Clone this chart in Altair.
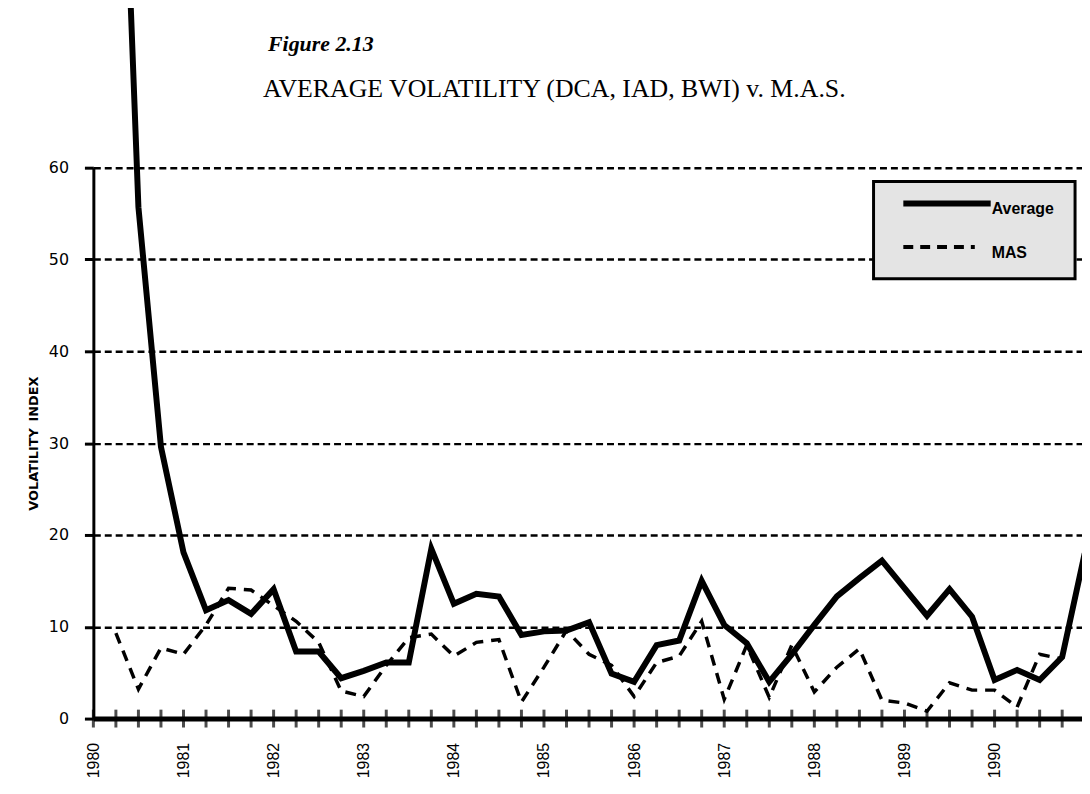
import altair as alt
import pandas as pd

# ---- data (quarterly, starting 1980 Q2) ----
years = [1980, 1981, 1982, 1983, 1984, 1985, 1986, 1987, 1988, 1989, 1990]
quarter_offsets = [0.0, 0.25, 0.5, 0.75]
quarter_times = [y + q for y in years for q in quarter_offsets] + [1991.0]

average_values = [120.0, 55.7, 29.6, 18.1, 11.8, 12.9, 11.4, 14.1, 7.3, 7.3,
                  4.4, 5.2, 6.1, 6.1, 18.5, 12.5, 13.6, 13.3, 9.1, 9.5,
                  9.6, 10.5, 4.9, 4.0, 8.0, 8.5, 15.0, 10.2, 8.2, 4.0,
                  7.0, 10.2, 13.3, 15.3, 17.2, 14.2, 11.2, 14.1, 11.1, 4.2,
                  5.3, 4.2, 6.7, 18.0]
mas_values = [9.3, 3.2, 7.7, 7.0, 10.2, 14.2, 14.0, 12.3, 10.6, 8.3,
              3.0, 2.4, 5.8, 8.8, 9.2, 6.8, 8.3, 8.6, 1.8, 5.6,
              9.6, 7.0, 5.8, 2.4, 6.1, 6.8, 10.6, 2.1, 8.0, 2.3,
              8.0, 2.9, 5.6, 7.6, 2.0, 1.7, 0.8, 3.9, 3.1, 3.1,
              1.25, 7.0, 6.5]
y_ticks = [0, 10, 20, 30, 40, 50, 60]
series_names = ["Average", "MAS"]

avg_df = pd.DataFrame({"t": quarter_times[1:1 + len(average_values)], "v": average_values})
mas_df = pd.DataFrame({"t": quarter_times[1:1 + len(mas_values)], "v": mas_values})
tick_df = pd.DataFrame({"t": quarter_times[:44], "v": [0] * 44})
one = pd.DataFrame({"k": [0]})

W, H = 996, 555

xaxis = alt.Axis(values=years, format="d", labelAngle=270, labelFlush=False,
                 labelOverlap=False, labelPadding=24, ticks=False, tickSize=0,
                 grid=False, domainColor="black", domainWidth=5,
                 labelFont="Liberation Sans", labelFontSize=16, labelColor="black",
                 title=None)
yaxis = alt.Axis(values=y_ticks, title="VOLATILITY\u2002INDEX", grid=True,
                 gridDash=[7, 4], gridWidth=2.5, gridColor="black", gridOpacity=1,
                 domainColor="black", domainWidth=3, tickColor="black",
                 tickSize=9, tickWidth=3, labelFont="DejaVu Sans", labelFontSize=16,
                 labelColor="black", labelPadding=16, labelFlush=False,
                 titleFont="DejaVu Sans", titleFontSize=13, titleFontWeight="bold",
                 titleColor="black", titlePadding=8)

X = alt.X("t:Q", scale=alt.Scale(domain=[1980, 1990.97], nice=False, zero=False), axis=xaxis)
Y = alt.Y("v:Q", scale=alt.Scale(domain=[0, 60], nice=False, zero=True), axis=yaxis)

mas_line = alt.Chart(mas_df).mark_line(color="black", strokeWidth=3.5, strokeDash=[11, 8]).encode(x=X, y=Y)
avg_line = alt.Chart(avg_df).mark_line(color="black", strokeWidth=6, strokeJoin="miter").encode(x=X, y=Y)
ticks = alt.Chart(tick_df).mark_tick(orient="vertical", size=18, thickness=3, color="black").encode(x=X, y=Y)

# legend (drawn by hand, inside the plot)
leg_box = alt.Chart(one).mark_rect(fill="#e4e4e4", stroke="black", strokeWidth=3).encode(
    x=alt.value(786), x2=alt.value(989), y=alt.value(14), y2=alt.value(112))
leg_avg = alt.Chart(one).mark_rule(color="black", strokeWidth=6).encode(
    x=alt.value(816), x2=alt.value(904), y=alt.value(36))
leg_mas = alt.Chart(one).mark_rule(color="black", strokeWidth=4, strokeDash=[10, 7]).encode(
    x=alt.value(816), x2=alt.value(888), y=alt.value(80))
leg_txt1 = alt.Chart(one).mark_text(text=series_names[0], font="Liberation Sans", fontSize=16,
                                    fontWeight="bold", align="left", baseline="middle",
                                    color="black").encode(x=alt.value(905), y=alt.value(42))
leg_txt2 = alt.Chart(one).mark_text(text=series_names[1], font="Liberation Sans", fontSize=16,
                                    fontWeight="bold", align="left", baseline="middle",
                                    color="black").encode(x=alt.value(905), y=alt.value(86))

fig_txt = alt.Chart(one).mark_text(text="Figure 2.13", font="Liberation Serif", fontSize=22,
                                   fontStyle="italic", fontWeight="bold", align="left",
                                   baseline="alphabetic", color="black").encode(
    x=alt.value(176), y=alt.value(-118))
title_txt = alt.Chart(one).mark_text(text="AVERAGE VOLATILITY (DCA, IAD, BWI) v. M.A.S.",
                                     font="Liberation Serif", fontSize=26, align="left",
                                     baseline="alphabetic", color="black").encode(
    x=alt.value(171), y=alt.value(-71))

chart = alt.layer(
    mas_line, avg_line, ticks, leg_box, leg_avg, leg_mas, leg_txt1, leg_txt2, fig_txt, title_txt
).properties(
    width=W, height=H,
    autosize=alt.AutoSizeParams(type="none"),
    padding={"left": 86, "top": 158, "right": 0, "bottom": 60},
    background="white",
).configure_view(strokeWidth=0)

chart.save("out.html", embed_options={"renderer": "svg", "actions": False})
